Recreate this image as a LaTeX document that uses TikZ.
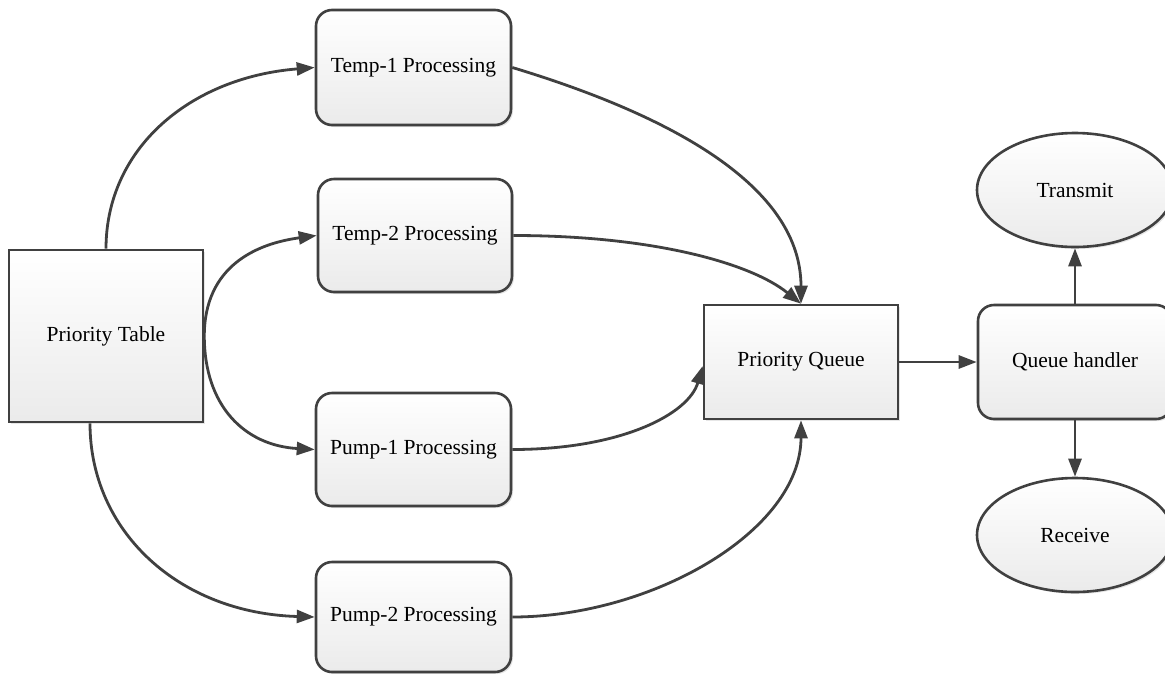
\documentclass[tikz,border=0pt]{standalone}
\usepackage{fontspec}
\setmainfont{Liberation Serif}
\usetikzlibrary{arrows.meta,shapes.geometric,shadows}
\definecolor{edge}{RGB}{64,64,64}
\begin{document}
\begin{tikzpicture}[x=1pt,y=-1pt,
  box/.style={draw=edge, line width=2.6pt, top color=white, bottom color=black!8,
    drop shadow={shadow xshift=2pt,shadow yshift=-2pt,opacity=0.2},
    font=\fontsize{21.5}{26}\selectfont, inner sep=0pt, text=black},
  sqbox/.style={box, rectangle},
  rbox/.style={box, rectangle, rounded corners=16pt},
  ellbox/.style={box, ellipse},
  arr/.style={draw=edge, line width=2.8pt, -{Triangle[length=18pt,width=13pt]}}]
\useasboundingbox (0,0) rectangle (1165,673);

\node[sqbox, minimum width=194pt, minimum height=172pt] (pt) at (106,336) {Priority Table};
\node[rbox, minimum width=195pt, minimum height=115pt] (t1) at (413.5,67.5) {Temp-1 Processing};
\node[rbox, minimum width=194pt, minimum height=113pt] (t2) at (415,235.5) {Temp-2 Processing};
\node[rbox, minimum width=195pt, minimum height=113pt] (p1) at (413.5,449.5) {Pump-1 Processing};
\node[rbox, minimum width=195pt, minimum height=110pt] (p2) at (413.5,617) {Pump-2 Processing};
\node[sqbox, minimum width=194pt, minimum height=114pt] (pq) at (801,362) {Priority Queue};
\node[rbox, minimum width=194pt, minimum height=114pt] (qh) at (1075,362) {Queue handler};
\node[ellbox, minimum width=196pt, minimum height=114pt] (tr) at (1075,190) {Transmit};
\node[ellbox, minimum width=196pt, minimum height=114pt] (rc) at (1075,535) {Receive};

\draw[arr] (pt.north) .. controls +(0,-100) and +(-125,10) .. (t1.west);
\draw[arr] (pt.east) .. controls +(0,-70) and +(-60,8) .. (t2.west);
\draw[arr] (pt.east) .. controls +(0,70) and +(-70,-4) .. (p1.west);
\draw[arr] ([xshift=-16pt]pt.south) .. controls +(0,108) and +(-136,-4) .. (p2.west);

\draw[arr] (t1.east) .. controls +(139,42) and +(0,-125) .. (pq.north);
\draw[arr] (t2.east) .. controls +(138,0) and +(-51,-41) .. (pq.north);
\draw[arr] (p1.east) .. controls +(109,0) and +(-14,48) .. ([yshift=-4pt]pq.west);
\draw[arr] (p2.east) .. controls +(139,0) and +(0,111) .. (pq.south);

\draw[arr] (pq.east) -- (qh.west);
\draw[arr] (qh.north) -- (tr.south);
\draw[arr] (qh.south) -- (rc.north);
\end{tikzpicture}
\end{document}
